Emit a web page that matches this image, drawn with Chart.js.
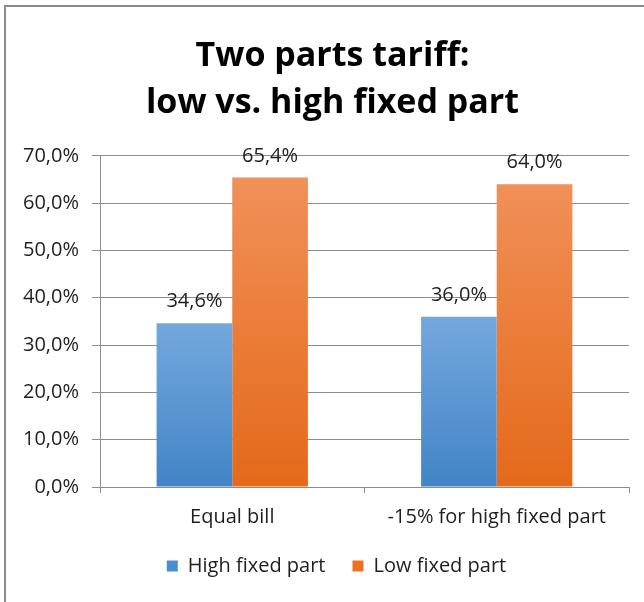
<!DOCTYPE html>
<html>
<head>
<meta charset="utf-8">
<script src="https://cdn.jsdelivr.net/npm/chart.js@4.4.1/dist/chart.umd.min.js"></script>
<style>
  body { margin: 0; background: #fff; }
  #wrap { position: relative; width: 644px; height: 602px; }
  #frame {
    position: absolute; left: 4px; top: 5px; right: 0; bottom: 0;
    border-left: 2px solid #8a8a8a; border-top: 2px solid #8a8a8a;
    pointer-events: none;
  }
</style>
</head>
<body>
<div id="wrap">
  <canvas id="chart" width="644" height="602"></canvas>
  <div id="frame"></div>
</div>
<script>
// chart data
var categories = ['Equal bill', '-15% for high fixed part'];
var seriesNames = ['High fixed part', 'Low fixed part'];
var highFixed = [34.6, 36.0];
var lowFixed = [65.4, 64.0];
var yTicks = [0, 10, 20, 30, 40, 50, 60, 70];

var FONT = "'Open Sans', 'DejaVu Sans', sans-serif";
var gridGray = '#8c8c8c';

// colours for the bar gradients (top, bottom) and legend squares
var blueTop = '#74a8dd', blueBottom = '#4284c6', blueSolid = '#4a8dd0';
var orangeTop = '#f19058', orangeBottom = '#e4691a', orangeSolid = '#ec7024';

// gradient running from the top of each bar down to the axis
function barGradient(top, bottom) {
    return function (ctx) {
        var chart = ctx.chart;
        var area = chart.chartArea;
        if (!area || ctx.type !== 'data') return bottom;
        var y = chart.scales.y.getPixelForValue(ctx.parsed.y);
        var g = chart.ctx.createLinearGradient(0, y, 0, area.bottom);
        g.addColorStop(0, top);
        g.addColorStop(1, bottom);
        return g;
    };
}

function fmt(v) {
    return v.toFixed(1).replace('.', ',') + '%';
}

// value labels above each bar
var valueLabels = {
    id: 'valueLabels',
    afterDatasetsDraw: function (chart) {
        var c = chart.ctx;
        c.save();
        c.font = '20px ' + FONT;
        c.fillStyle = '#1e1e1e';
        c.textAlign = 'center';
        c.textBaseline = 'alphabetic';
        chart.data.datasets.forEach(function (ds, i) {
            chart.getDatasetMeta(i).data.forEach(function (bar, j) {
                c.fillText(fmt(ds.data[j]), bar.x, bar.y - 16);
            });
        });
        c.restore();
    }
};

// title and legend sit a bit right of the canvas centre in the original
var shiftBoxes = {
    id: 'shiftBoxes',
    afterLayout: function (chart) {
        chart.titleBlock.left += 9;
        chart.titleBlock.right += 9;
        chart.legend.left += 13;
        chart.legend.right += 13;
    }
};

var ctx = document.getElementById('chart').getContext('2d');
var chart = new Chart(ctx, {
    type: 'bar',
    data: {
        labels: categories,
        datasets: [{
            label: seriesNames[0],
            data: highFixed,
            backgroundColor: barGradient(blueTop, blueBottom),
            legendColor: blueSolid,
            categoryPercentage: 0.572,
            barPercentage: 1.0
        }, {
            label: seriesNames[1],
            data: lowFixed,
            backgroundColor: barGradient(orangeTop, orangeBottom),
            legendColor: orangeSolid,
            categoryPercentage: 0.572,
            barPercentage: 1.0
        }]
    },
    options: {
        responsive: false,
        animation: false,
        layout: { padding: { left: 18, right: 15, top: 33, bottom: 16 } },
        plugins: {
            title: {
                display: true,
                text: ['Two parts tariff:', 'low vs. high fixed part'],
                color: '#000',
                font: { family: FONT, size: 34, weight: 'bold', lineHeight: 1.38 },
                padding: { top: 0, bottom: 29 }
            },
            legend: {
                position: 'bottom',
                labels: {
                    color: '#1e1e1e',
                    font: { family: FONT, size: 20 },
                    boxWidth: 11,
                    boxHeight: 11,
                    padding: 27,
                    generateLabels: function (chart) {
                        return chart.data.datasets.map(function (ds, i) {
                            return {
                                text: ds.label,
                                fillStyle: ds.legendColor,
                                strokeStyle: ds.legendColor,
                                lineWidth: 0,
                                fontColor: '#1e1e1e',
                                datasetIndex: i
                            };
                        });
                    }
                }
            },
            tooltip: { enabled: false }
        },
        scales: {
            x: {
                offset: true,
                afterFit: function (scale) { scale.height = 42; },
                grid: {
                    offset: true,
                    drawOnChartArea: false,
                    drawTicks: true,
                    tickLength: 6,
                    color: gridGray
                },
                border: { display: true, color: gridGray, width: 1 },
                ticks: {
                    color: '#1e1e1e',
                    font: { family: FONT, size: 20 },
                    padding: 12,
                    maxRotation: 0,
                    autoSkip: false
                }
            },
            y: {
                min: 0,
                max: 70,
                afterFit: function (scale) { scale.width = 82; },
                afterBuildTicks: function (scale) {
                    scale.ticks = yTicks.map(function (v) { return { value: v }; });
                },
                grid: {
                    color: gridGray,
                    tickLength: 8,
                    drawTicks: true
                },
                border: { display: true, color: gridGray, width: 1 },
                ticks: {
                    color: '#1e1e1e',
                    font: { family: FONT, size: 20 },
                    padding: 13,
                    callback: function (v) { return fmt(v); }
                }
            }
        }
    },
    plugins: [valueLabels, shiftBoxes]
});
</script>
</body>
</html>
